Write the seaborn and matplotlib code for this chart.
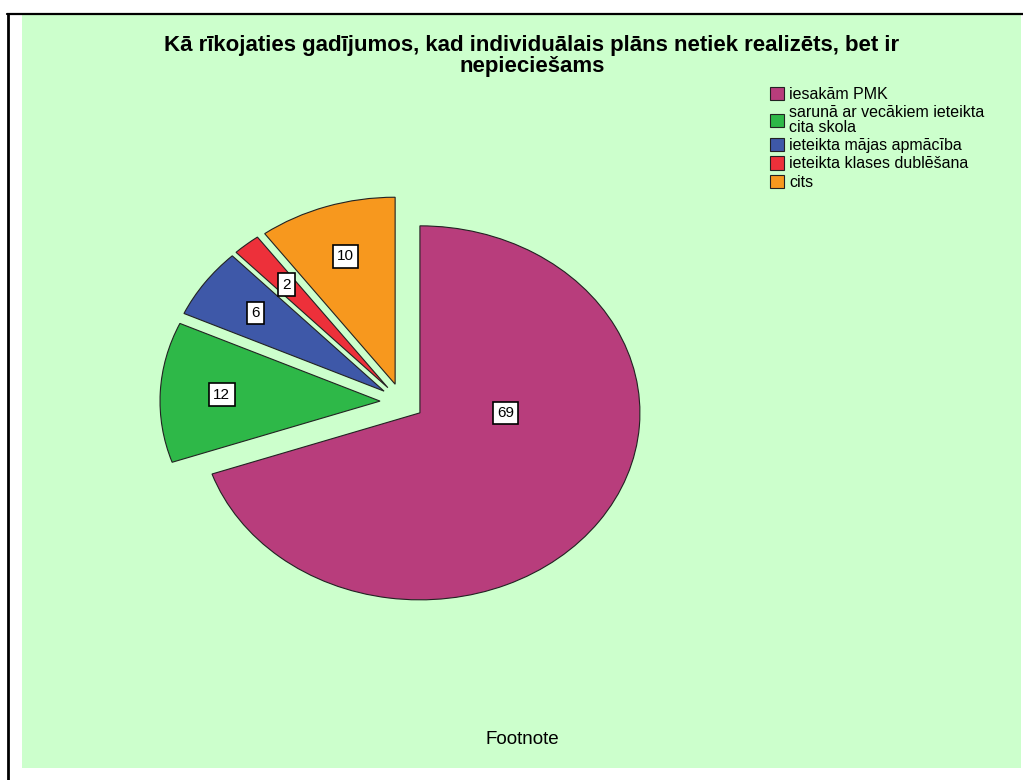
import matplotlib
matplotlib.use("Agg")
import matplotlib.pyplot as plt
import matplotlib.patches as mpatches
from matplotlib.lines import Line2D
import seaborn as sns

sns.set_style("white")
plt.rcParams['font.family'] = ['Liberation Sans', 'DejaVu Sans']
plt.rcParams['text.color'] = 'black'

# ---- data ----
title = "Kā rīkojaties gadījumos, kad individuālais plāns netiek realizēts, bet ir\nnepieciešams"
categories = ["iesakām PMK",
              "sarunā ar vecākiem ieteikta\ncita skola",
              "ieteikta mājas apmācība",
              "ieteikta klases dublēšana",
              "cits"]
values = [69, 12, 6, 2, 10]
colors = ["#b83d7c", "#2eb848", "#3e58a8", "#ed303a", "#f7981e"]
footnote = "Footnote"

W, H = 1023, 780
fig = plt.figure(figsize=(W / 100, H / 100), dpi=100)
fig.patch.set_facecolor("white")

# background panel and frame lines
bg = mpatches.Rectangle((22 / W, 1 - 768 / H), 999 / W, 753 / H,
                        transform=fig.transFigure, facecolor="#ccffcc",
                        edgecolor="none", zorder=-5)
fig.patches.append(bg)
fig.lines.append(Line2D([7 / W, 1], [1 - 14 / H, 1 - 14 / H], transform=fig.transFigure,
                        color="black", lw=1.6, zorder=-4))
fig.lines.append(Line2D([8 / W, 8 / W], [0, 1 - 14 / H], transform=fig.transFigure,
                        color="black", lw=2.0, zorder=-4))

ax = fig.add_axes([0, 0, 1, 1])
ax.set_zorder(2)
ax.patch.set_alpha(0)
pal = sns.color_palette(colors)
total = sum(values)
wedges, _, autotexts = ax.pie(values, colors=pal, startangle=90, counterclock=False,
                              explode=[0.1] * len(values), radius=1.0,
                              autopct=lambda p: f"{round(p * total / 100)}",
                              pctdistance=0.72,
                              wedgeprops=dict(edgecolor="#222222", linewidth=0.8),
                              textprops=dict(fontsize=11, color="black"))
for t in autotexts:
    t.set_bbox(dict(boxstyle="square,pad=0.28", facecolor="white", edgecolor="black", lw=1.2))
# largest slice label sits closer to the vertex, level with it
autotexts[0].set_position((0.47, -0.06))

rx, ry, cx, cy = 220, 187, 402, 402
ax.set_aspect("auto")
ax.set_xlim(-cx / rx, (W - cx) / rx)
ax.set_ylim((cy - H) / ry, cy / ry)
ax.axis("off")

fig.text(532 / W, 1 - 56 / H, title, ha="center", va="center", fontsize=16,
         fontweight="bold", linespacing=1.0, color="black", zorder=5)
fig.text(522 / W, 1 - 740 / H, footnote, ha="center", va="center", fontsize=13.5,
         color="black", zorder=5)

leg = fig.legend(wedges, categories, loc="upper left",
                 bbox_to_anchor=(770 / W, 1 - 87 / H), bbox_transform=fig.transFigure,
                 frameon=False, fontsize=11.5, handlelength=0.9, handleheight=0.9,
                 handletextpad=0.3, labelspacing=0.2, borderaxespad=0, borderpad=0)
leg.set_zorder(5)
for t in leg.get_texts():
    t.set_linespacing(0.95)
    t.set_color("black")

fig.savefig("out.png", dpi=100, facecolor="white")
